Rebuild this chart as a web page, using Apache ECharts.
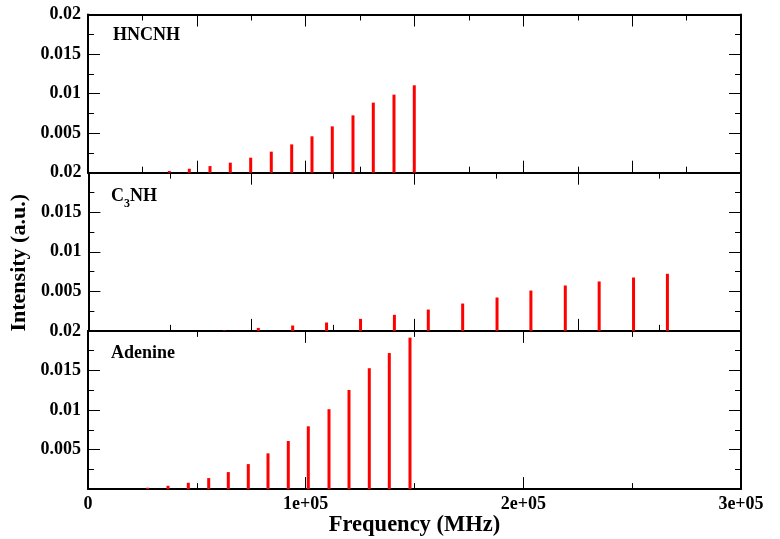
<!DOCTYPE html>
<html>
<head>
<meta charset="utf-8">
<script src="https://cdn.jsdelivr.net/npm/echarts@6/dist/echarts.min.js"></script>
<style>
html,body{margin:0;padding:0;background:#fff;}
#c{width:780px;height:539px;}
</style>
</head>
<body>
<div id="c"></div>
<script>
// ---- data (frequency in MHz, intensity in a.u.) ----
const hncnhFreq = [37350, 46540, 56050, 65380, 74740, 84210, 93580, 102900, 112230, 121740, 131070, 140580, 149900];
const hncnhInt  = [0.00022, 0.0005, 0.00084, 0.00127, 0.0019, 0.00266, 0.00358, 0.0046, 0.00586, 0.00725, 0.00886, 0.00987, 0.01105];

const c3nhFreq = [62480, 78100, 93900, 109480, 125100, 140670, 156250, 172050, 187850, 203420, 219230, 234800, 250600, 266170];
const c3nhInt  = [0.00006, 0.00038, 0.00068, 0.00106, 0.00152, 0.00203, 0.0027, 0.00346, 0.00422, 0.0051, 0.00574, 0.00625, 0.00675, 0.00722];

const adenineFreq = [27430, 36750, 46080, 55450, 64460, 73640, 82700, 92020, 101210, 110720, 119910, 129230, 138420, 147930];
const adenineInt  = [0.00017, 0.00042, 0.0008, 0.00139, 0.00215, 0.00316, 0.00452, 0.00608, 0.00794, 0.0101, 0.01253, 0.01528, 0.0172, 0.01915];

const panelNames = ['HNCNH', 'C3NH', 'Adenine'];
const xTickLabels = ['0', '1e+05', '2e+05', '3e+05'];
const yTickLabels = ['', '0.005', '0.01', '0.015', '0.02'];
const xAxisTitle = 'Frequency (MHz)';
const yAxisTitle = 'Intensity (a.u.)';

// ---- layout ----
const FONT = '"Liberation Serif","Times New Roman",serif';
const L = 88, W = 653, T0 = 14.5, H = 158.2;
const xIntervals = [50000, 75000, 100000];

const chart = echarts.init(document.getElementById('c'));

const grids = [], xAxes = [], yAxes = [], series = [];
const datasets = [[hncnhFreq, hncnhInt], [c3nhFreq, c3nhInt], [adenineFreq, adenineInt]];

for (let g = 0; g < 3; g++) {
  grids.push({ left: L, top: T0 + g * H, width: W, height: H, containLabel: false });
  const xBase = {
    type: 'value', gridIndex: g, min: 0, max: 300000, interval: xIntervals[g],
    axisLine: { show: true, onZero: false, lineStyle: { color: '#000', width: 2 } },
    axisTick: { show: true, inside: true, length: 12, lineStyle: { color: '#000', width: 1 } },
    minorTick: { show: true, splitNumber: 2, length: 6, lineStyle: { color: '#000', width: 1 } },
    splitLine: { show: false },
    axisLabel: { show: false }
  };
  const xb = Object.assign({}, xBase, { position: 'bottom' });
  if (g === 2) {
    xb.axisLabel = {
      show: true, margin: 6, color: '#000', fontFamily: FONT, fontWeight: 'bold', fontSize: 18,
      formatter: v => xTickLabels[Math.round(v / 100000)]
    };
    xb.name = xAxisTitle;
    xb.nameLocation = 'middle';
    xb.nameGap = 24;
    xb.nameTextStyle = { color: '#000', fontFamily: FONT, fontWeight: 'bold', fontSize: 22.5 };
  }
  const xt = Object.assign({}, xBase, { position: 'top' });
  xAxes.push(xb, xt);

  const yBase = {
    type: 'value', gridIndex: g, min: 0, max: 0.02, interval: 0.005,
    axisLine: { show: true, onZero: false, lineStyle: { color: '#000', width: 2 } },
    axisTick: { show: true, inside: true, length: 12, lineStyle: { color: '#000', width: 1 } },
    minorTick: { show: true, splitNumber: 2, length: 6, lineStyle: { color: '#000', width: 1 } },
    splitLine: { show: false },
    axisLabel: { show: false }
  };
  const yl = Object.assign({}, yBase, {
    position: 'left',
    axisLabel: {
      show: true, margin: 7, color: '#000', fontFamily: FONT, fontWeight: 'bold', fontSize: 18,
      formatter: v => yTickLabels[Math.round(v / 0.005)]
    }
  });
  if (g === 1) {
    yl.name = yAxisTitle;
    yl.nameLocation = 'middle';
    yl.nameRotate = 90;
    yl.nameGap = 55;
    yl.nameTextStyle = { color: '#000', fontFamily: FONT, fontWeight: 'bold', fontSize: 22, padding: [0, 22, 0, 0] };
  }
  const yr = Object.assign({}, yBase, { position: 'right' });
  yAxes.push(yl, yr);

  const [fs, is] = datasets[g];
  series.push({
    type: 'bar', xAxisIndex: 2 * g, yAxisIndex: 2 * g,
    barWidth: 3,
    itemStyle: { color: '#ff0000' },
    data: fs.map((f, i) => [f, is[i]])
  });
}

chart.setOption({
  animation: false,
  backgroundColor: '#fff',
  grid: grids,
  xAxis: xAxes,
  yAxis: yAxes,
  series: series,
  graphic: [
    { type: 'text', left: 113, top: 26, style: { text: panelNames[0], fill: '#000', font: 'bold 18px ' + FONT } },
    { type: 'text', left: 111, top: 187, style: {
        text: '{a|C}{b|3}{a|NH}', fill: '#000',
        rich: {
          a: { fontFamily: FONT, fontWeight: 'bold', fontSize: 18, fill: '#000', verticalAlign: 'bottom', lineHeight: 20 },
          b: { fontFamily: FONT, fontWeight: 'bold', fontSize: 12, fill: '#000', verticalAlign: 'bottom', lineHeight: 20, padding: [0, 0, -5, 0] }
        } } },
    { type: 'text', left: 111, top: 344, style: { text: panelNames[2], fill: '#000', font: 'bold 18px ' + FONT } }
  ]
});
</script>
</body>
</html>
